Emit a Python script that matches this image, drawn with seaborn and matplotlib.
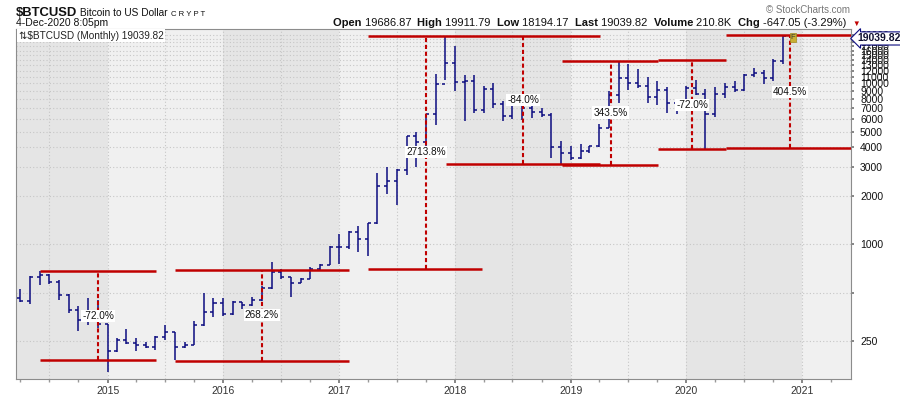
import numpy as np
import pandas as pd

import matplotlib
matplotlib.use('Agg')
import matplotlib.pyplot as plt
import matplotlib.dates as mdates
import matplotlib.transforms as mtransforms
import seaborn as sns


# ------------------- DATA -------------------

months = pd.date_range("2014-04-01", "2020-12-01", freq="MS")

opens = [460, 445, 625, 640, 585, 480, 390, 338, 378,
         320, 217, 254, 244, 236, 230, 263, 284, 230, 236, 314, 377,
         430, 368, 437, 416, 448, 531, 673, 624, 575, 609, 700, 742,
         963, 965, 1190, 1071, 1348, 2300, 2480, 2875, 4700, 4340, 6450, 9950,
         13400, 10200, 10300, 6800, 9250, 7450, 6300, 7730, 7030, 6625, 6320, 4000,
         3700, 3460, 3820, 4100, 5300, 8500, 10800, 10000, 9600, 8200, 9150, 7550,
         7190, 9350, 8540, 6410, 8640, 9450, 9140, 11350, 11650, 10780, 13800, 19686.87]
highs = [530, 630, 680, 655, 600, 490, 410, 465, 450,
         320, 262, 298, 262, 246, 267, 315, 285, 245, 334, 500, 465,
         462, 440, 438, 466, 550, 775, 705, 625, 620, 720, 755, 975,
         1150, 1200, 1290, 1350, 2760, 3000, 2950, 4700, 4980, 6450, 11400, 19800,
         17200, 11300, 11300, 9700, 10000, 7750, 8500, 7750, 7400, 7000, 6500, 4400,
         4070, 4200, 4100, 5600, 9000, 13880, 13200, 12300, 10950, 10350, 9500, 7750,
         9600, 10500, 9200, 9450, 10080, 10380, 11450, 12480, 12050, 14100, 19850, 19911.79]
lows = [435, 425, 555, 565, 450, 375, 290, 315, 300,
        160, 214, 240, 216, 227, 220, 253, 190, 225, 236, 310, 350,
        355, 365, 395, 415, 440, 530, 605, 470, 570, 605, 690, 740,
        750, 930, 890, 840, 1340, 2050, 1760, 2700, 3000, 4100, 5500, 10500,
        9000, 5800, 6500, 6500, 7000, 5800, 6000, 5880, 6120, 6200, 3450, 3168,
        3350, 3380, 3700, 4050, 5300, 7500, 9070, 9400, 7500, 7300, 6530, 6430,
        6880, 8450, 3886, 6150, 8100, 8900, 8950, 10950, 9850, 10380, 13200, 18194.17]
closes = [445, 625, 640, 585, 480, 390, 338, 378, 320,
          217, 254, 244, 236, 230, 263, 284, 230, 236, 314, 377, 430,
          368, 437, 416, 448, 531, 673, 624, 575, 609, 700, 742, 963,
          965, 1190, 1071, 1348, 2300, 2480, 2875, 4700, 4340, 6450, 9950, 13400,
          10200, 10300, 6800, 9250, 7450, 6300, 7730, 7030, 6625, 6320, 4000, 3700,
          3460, 3820, 4100, 5300, 8500, 10800, 10000, 9600, 8200, 9150, 7550, 7190,
          9350, 8540, 6410, 8640, 9450, 9140, 11350, 11650, 10780, 13800, 19700, 19039.82]

# support / resistance levels drawn on the chart
level_starts = ["2014-06-02", "2014-06-02", "2015-08-01", "2015-08-01",
                "2017-04-01", "2017-04-01", "2017-12-04",
                "2018-12-04", "2018-12-04", "2019-10-04", "2019-10-04",
                "2020-05-04", "2020-05-04"]
level_ends = ["2015-06-02", "2015-06-02", "2017-01-30", "2017-01-30",
              "2019-04-03", "2018-03-28", "2019-04-03",
              "2019-10-04", "2019-10-04", "2020-05-04", "2020-05-04",
              "2021-06-10", "2021-06-10"]
level_values = [680, 190, 692, 188,
                19800, 705, 3168,
                13880, 3130, 13950, 3886,
                19911, 3947]

# swing measurements (dashed verticals)
swing_dates = ["2014-12-02", "2016-05-02", "2017-10-02", "2018-08-04",
               "2019-05-07", "2020-01-19", "2020-11-22"]
swing_lows = [190, 188, 705, 3168, 3130, 3886, 3947]
swing_highs = [680, 692, 19800, 19800, 13880, 13950, 19911]
swing_labels = ["-72.0%", "268.2%", "2713.8%", "-84.0%", "343.5%", "-72.0%", "404.5%"]

ytick_values = [250, 500, 1000, 2000, 3000, 4000, 5000, 6000, 7000, 8000, 9000,
                10000, 11000, 12000, 13000, 14000, 15000, 16000, 17000, 18000,
                19000, 20000]
ytick_labels = [str(v) if v != 500 else "" for v in ytick_values]

header_stats = [("Open", "19686.87"), ("High", "19911.79"), ("Low", "18194.17"),
                ("Last", "19039.82"), ("Volume", "210.8K"), ("Chg", "-647.05 (-3.29%)")]

# ------------------- PLOT -------------------

sns.set_theme(style="white")
plt.rcParams['font.family'] = ['Liberation Sans', 'DejaVu Sans']

NAVY = "#0c0c80"
RED = "#c00000"

fig = plt.figure(figsize=(9, 3.96), dpi=100)
ax = fig.add_axes([16 / 900, 1 - 379 / 396, 835 / 900, 350 / 396])
ax.set_facecolor("#f0f0f0")

x0 = pd.Timestamp("2014-03-18")
x1 = pd.Timestamp("2021-06-03")

# alternating year shading
for yr in [2014, 2016, 2018, 2020]:
    a = max(pd.Timestamp(f"{yr}-01-01"), x0)
    ax.axvspan(a, pd.Timestamp(f"{yr + 1}-01-01"), color="#e5e5e5", lw=0, zorder=0)

# grid
for d in pd.date_range("2014-07-01", "2021-06-01", freq="6MS"):
    ax.axvline(d, color="#c6c6c6", lw=0.8, ls=(0, (1, 2)), zorder=1)
ax.set_yscale("log")
ax.set_yticks(ytick_values)
ax.set_yticklabels(ytick_labels)
ax.yaxis.set_minor_locator(matplotlib.ticker.NullLocator())
ax.grid(axis="y", which="major", color="#c6c6c6", lw=0.8, ls=(0, (1, 2)), zorder=1)
ax.set_axisbelow(True)

# OHLC bars
xn = mdates.date2num(months)
half = 9.5
ax.vlines(xn, lows, highs, color=NAVY, lw=1.1, zorder=3)
ax.hlines(opens, xn - half, xn, color=NAVY, lw=1.1, zorder=3)
ax.hlines(closes, xn, xn + half, color=NAVY, lw=1.1, zorder=3)

# levels and swings
ax.hlines(level_values, pd.to_datetime(level_starts), pd.to_datetime(level_ends),
          color=RED, lw=1.8, zorder=4)
ax.vlines(pd.to_datetime(swing_dates), swing_lows, swing_highs,
          color=RED, lw=1.5, ls=(0, (2, 1.3)), zorder=4)
for d, lo, hi, lab in zip(swing_dates, swing_lows, swing_highs, swing_labels):
    ax.text(pd.Timestamp(d), np.sqrt(lo * hi), lab, ha="center", va="center",
            fontsize=7.2, color="#111111", zorder=5,
            bbox=dict(fc="white", ec="none", pad=0.8))

# flag marker near last bar
ax.text(pd.Timestamp("2020-12-01"), 19300, "F", ha="center", va="center",
        fontsize=5.5, color="#333333", zorder=6,
        bbox=dict(fc="#c9b032", ec="#a08a20", lw=0.5, pad=0.6))

ax.set_xlim(x0, x1)
ax.set_ylim(145, 21800)

ax.xaxis.set_major_locator(mdates.YearLocator(month=1))
ax.xaxis.set_major_formatter(mdates.DateFormatter("%Y"))
ax.xaxis.set_minor_locator(mdates.MonthLocator(bymonth=[1, 4, 7, 10]))
ax.yaxis.tick_right()
ax.tick_params(axis="y", which="major", labelsize=7.5, length=2.5, pad=4,
               color="#777777", labelcolor="#111111", right=True, left=False)
ax.tick_params(axis="x", which="major", labelsize=7.5, length=3, pad=2,
               color="#777777", labelcolor="#333333", bottom=True)
ax.tick_params(axis="x", which="minor", length=2, color="#999999", bottom=True)
for s in ax.spines.values():
    s.set_color("#8c8c8c")
    s.set_linewidth(0.8)

# price tag on the right axis
tr = mtransforms.blended_transform_factory(ax.transAxes, ax.transData)
ax.text(1.008, 19039.82, "19039.82", transform=tr, ha="left", va="center",
        fontsize=7.5, fontweight="bold", color="#111133", clip_on=False, zorder=7,
        bbox=dict(boxstyle="larrow,pad=0.15", fc="white", ec=NAVY, lw=0.8))

# legend inside plot
ax.text(0.003, 0.995, "\u21c5$BTCUSD (Monthly) 19039.82", transform=ax.transAxes,
        ha="left", va="top", fontsize=7.2, color="#222222", zorder=7,
        bbox=dict(fc="white", ec="none", pad=1.2))

# ------------------- HEADER -------------------

renderer = fig.canvas.get_renderer()


def put_row(x, y, pieces):
    for txt, size, weight, color in pieces:
        t = fig.text(x, y, txt, fontsize=size, fontweight=weight, color=color,
                     ha="left", va="baseline")
        x += t.get_window_extent(renderer).width / 900
    return x


put_row(16 / 900, 1 - 16 / 396, [("$BTCUSD", 9.4, "bold", "#111111"),
                                 (" Bitcoin to US Dollar ", 7.3, "normal", "#111111"),
                                 ("C R Y P T", 5.6, "normal", "#111111")])
fig.text(16 / 900, 1 - 26 / 396, "4-Dec-2020 8:05pm", fontsize=7.5,
         color="#111111", va="baseline")

pieces = []
for k, v in header_stats:
    pieces.append((k + " ", 8, "bold", "#111111"))
    pieces.append((v + "  ", 8, "normal", "#111111"))
end = put_row(333 / 900, 1 - 26 / 396, pieces)
fig.text(end, 1 - 26 / 396, "\u25bc", fontsize=5.5, color=RED, va="baseline")

fig.text(850 / 900, 1 - 13 / 396, "\u00a9 StockCharts.com", fontsize=7,
         color="#777777", ha="right", va="baseline")

plt.savefig("out.png", dpi=100, facecolor="white")
plt.close()
